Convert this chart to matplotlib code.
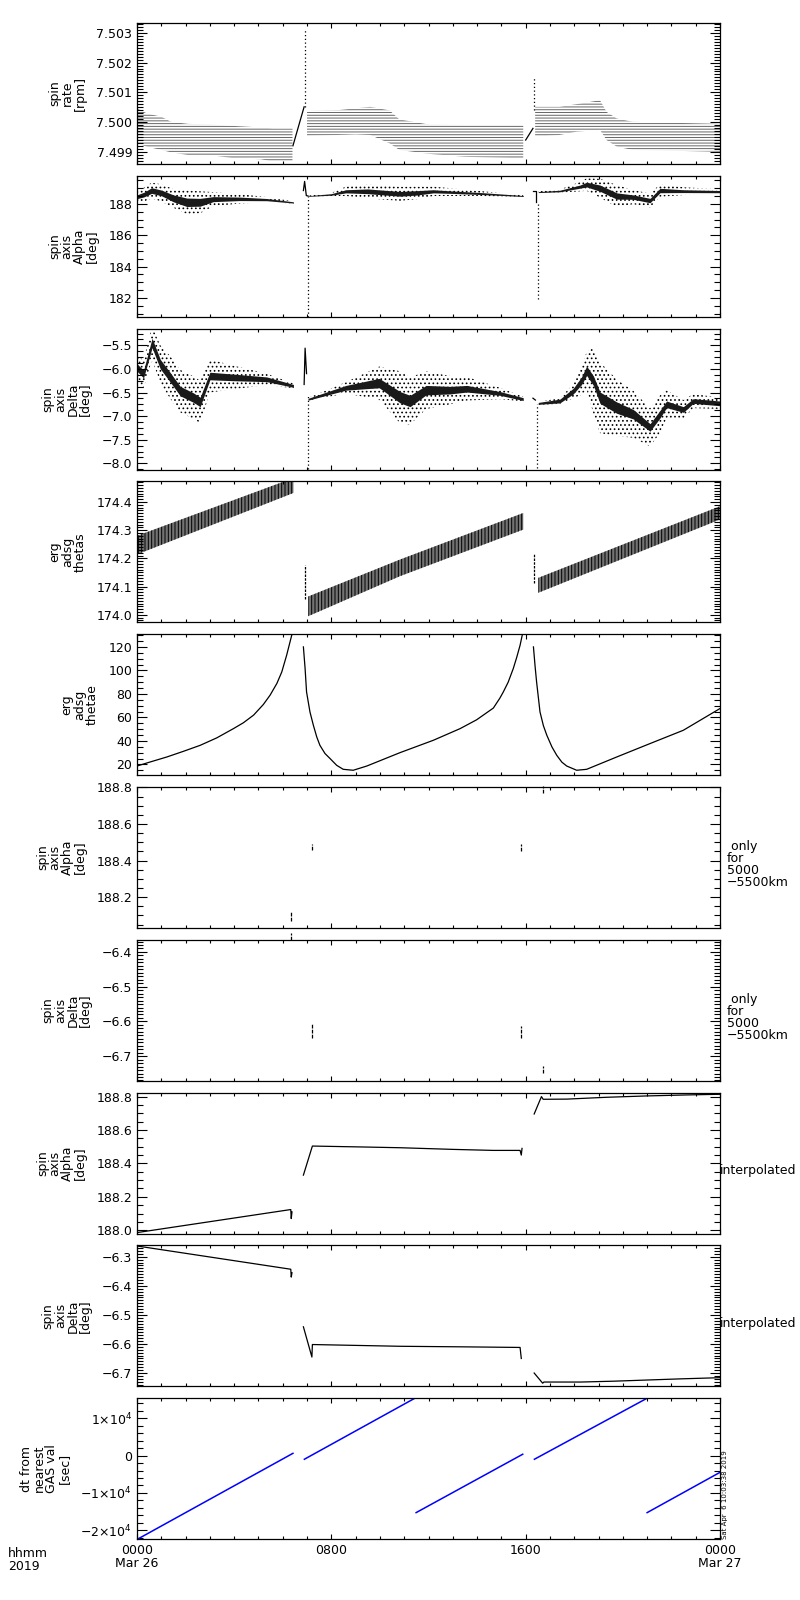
import numpy as np
import matplotlib
matplotlib.use('Agg')
import matplotlib.pyplot as plt
from matplotlib.ticker import MultipleLocator, AutoMinorLocator, FuncFormatter

plt.rcParams['font.family'] = 'DejaVu Sans'
plt.rcParams['axes.linewidth'] = 0.9
plt.rcParams['hatch.linewidth'] = 0.7

# ---- panel 1: spin rate envelope (hours, rpm)
rate_t1 = [0, 0.4, 1.0, 1.4, 2.1, 3.0, 4.0, 5.1, 5.6, 6.4]
rate_hi1 = [7.50047, 7.50030, 7.50019, 7.50002, 7.49995, 7.49993, 7.49988, 7.49983, 7.49980, 7.49980]
rate_lo1 = [7.49930, 7.49919, 7.49908, 7.49900, 7.49891, 7.49891, 7.49880, 7.49877, 7.49869, 7.49869]
rate_t2 = [7.0, 8.3, 9.0, 9.6, 10.4, 10.8, 12.0, 13.5, 15.9]
rate_hi2 = [7.50038, 7.50041, 7.50047, 7.50052, 7.50040, 7.50010, 7.49993, 7.49991, 7.49991]
rate_lo2 = [7.49955, 7.49958, 7.49960, 7.49958, 7.49930, 7.49908, 7.49895, 7.49885, 7.49880]
rate_t3 = [16.39, 17.4, 18.1, 19.06, 19.33, 19.75, 20.4, 24.0]
rate_hi3 = [7.50052, 7.50052, 7.50061, 7.50074, 7.50035, 7.50013, 7.50002, 7.49995]
rate_lo3 = [7.49952, 7.49958, 7.49969, 7.49975, 7.49941, 7.49919, 7.49908, 7.49902]
rate_jump_t = [[6.42, 6.88], [16.0, 16.3]]
rate_jump_v = [[7.49922, 7.50052], [7.49941, 7.49980]]
rate_spike_t = [6.9, 16.36]
rate_spike_lo = [7.5005, 7.5004]
rate_spike_hi = [7.5031, 7.50152]

# ---- panel 2: spin axis alpha (centre, outer spread, core spread)
alpha_t1 = [0, 0.3, 0.6, 1.0, 1.5, 2.05, 2.6, 3.14, 4.24, 5.34, 6.44]
alpha_c1 = [188.45, 188.6, 188.85, 188.7, 188.35, 188.1, 188.1, 188.3, 188.32, 188.27, 188.09]
alpha_o1 = [0.25, 0.45, 0.5, 0.55, 0.6, 0.75, 0.7, 0.45, 0.3, 0.16, 0.07]
alpha_k1 = [0.12, 0.15, 0.18, 0.18, 0.22, 0.27, 0.25, 0.16, 0.11, 0.07, 0.04]
alpha_t2 = [7.06, 8.0, 8.6, 9.5, 10.83, 11.52, 12.2, 12.89, 14.26, 15.9]
alpha_c2 = [188.5, 188.6, 188.8, 188.8, 188.64, 188.7, 188.8, 188.75, 188.65, 188.5]
alpha_o2 = [0.03, 0.1, 0.3, 0.45, 0.45, 0.4, 0.3, 0.25, 0.15, 0.05]
alpha_k2 = [0.02, 0.05, 0.1, 0.15, 0.15, 0.14, 0.1, 0.08, 0.06, 0.03]
alpha_t3 = [16.52, 17.41, 18.24, 18.51, 19.06, 19.75, 20.43, 21.12, 21.53, 22.49, 24.0]
alpha_c3 = [188.75, 188.82, 189.1, 189.23, 189.0, 188.5, 188.43, 188.21, 188.85, 188.81, 188.78]
alpha_o3 = [0.05, 0.1, 0.3, 0.4, 0.6, 0.7, 0.45, 0.45, 0.4, 0.25, 0.15]
alpha_k3 = [0.03, 0.05, 0.1, 0.15, 0.2, 0.2, 0.14, 0.14, 0.14, 0.09, 0.07]
alpha_hook_t = [[6.85, 6.9, 6.97, 7.04], [16.3, 16.42, 16.42]]
alpha_hook_v = [[188.85, 189.43, 188.53, 188.5], [188.79, 188.79, 188.1]]
alpha_drop_t = [7.06, 16.5]
alpha_drop_lo = [180.8, 181.9]
alpha_drop_hi = [188.5, 188.1]

# ---- panel 3: spin axis delta
delta_t1 = [0, 0.27, 0.62, 0.96, 1.37, 1.78, 2.33, 2.6, 3.0, 3.97, 5.34, 6.44]
delta_c1 = [-5.97, -6.11, -5.45, -5.9, -6.18, -6.47, -6.61, -6.7, -6.15, -6.18, -6.22, -6.36]
delta_o1 = [0.25, 0.3, 0.35, 0.4, 0.45, 0.45, 0.45, 0.45, 0.35, 0.25, 0.12, 0.05]
delta_k1 = [0.08, 0.08, 0.1, 0.1, 0.1, 0.1, 0.1, 0.1, 0.08, 0.07, 0.05, 0.03]
delta_t2 = [7.06, 8.6, 9.97, 10.83, 11.24, 11.9, 12.89, 13.58, 14.95, 15.9]
delta_c2 = [-6.64, -6.4, -6.3, -6.6, -6.68, -6.45, -6.45, -6.42, -6.52, -6.64]
delta_o2 = [0.03, 0.12, 0.35, 0.55, 0.5, 0.4, 0.3, 0.25, 0.12, 0.05]
delta_k2 = [0.02, 0.05, 0.1, 0.12, 0.12, 0.1, 0.08, 0.07, 0.04, 0.03]
delta_t3 = [16.52, 17.41, 17.96, 18.3, 18.51, 18.79, 19.06, 19.75, 20.43, 21.12, 21.53, 21.8, 22.49, 22.9, 24.0]
delta_c3 = [-6.73, -6.68, -6.47, -6.25, -6.04, -6.25, -6.61, -6.82, -6.96, -7.24, -6.96, -6.75, -6.86, -6.68, -6.73]
delta_o3 = [0.03, 0.06, 0.15, 0.3, 0.4, 0.7, 0.75, 0.6, 0.5, 0.4, 0.4, 0.3, 0.2, 0.15, 0.12]
delta_k3 = [0.02, 0.04, 0.06, 0.08, 0.1, 0.1, 0.12, 0.12, 0.1, 0.08, 0.08, 0.07, 0.06, 0.05, 0.05]
delta_hook_t = [[6.88, 6.92, 6.98], [16.3, 16.4]]
delta_hook_v = [[-6.33, -5.56, -6.1], [-6.62, -6.66]]
delta_drop_t = [7.06, 16.45]
delta_drop_lo = [-8.13, -8.1]
delta_drop_hi = [-6.54, -6.75]

# ---- panel 4: thetas band
thetas_t1 = [0, 6.44]
thetas_hi1 = [174.28, 174.485]
thetas_lo1 = [174.214, 174.432]
thetas_t2 = [7.05, 10.83, 15.9]
thetas_hi2 = [174.065, 174.196, 174.361]
thetas_lo2 = [173.995, 174.137, 174.302]
thetas_t3 = [16.52, 24.0]
thetas_hi3 = [174.131, 174.385]
thetas_lo3 = [174.078, 174.338]
thetas_drop_t = [6.9, 16.36]
thetas_drop_lo = [174.055, 174.113]
thetas_drop_hi = [174.178, 174.214]

# ---- panel 5: thetae
thetae_t1 = [0, 0.535, 1.23, 1.91, 2.6, 3.28, 3.97, 4.38, 4.8, 5.2, 5.48, 5.76, 5.96, 6.16, 6.3, 6.42]
thetae_v1 = [18.7, 22.1, 26.4, 31.2, 36.3, 42.6, 50.5, 55.5, 62.0, 71.0, 79.0, 89.0, 98.7, 112.9, 124.3, 134]
thetae_t2 = [6.85, 6.92, 6.98, 7.12, 7.26, 7.4, 7.53, 7.74, 7.95, 8.22, 8.49, 8.9, 9.46, 10.83,
             12.2, 13.3, 13.98, 14.67, 14.94, 15.08, 15.28, 15.49, 15.63, 15.77, 15.9]
thetae_v2 = [120, 101.6, 81.7, 64.7, 53.4, 43.4, 36.3, 29.3, 25.0, 19.3, 15.9, 15.1, 18.7, 30.1,
             40.6, 50.5, 58.0, 68.0, 76.5, 81.7, 90.0, 101.6, 111.0, 121.4, 134]
thetae_t3 = [16.32, 16.39, 16.45, 16.59, 16.73, 16.87, 17.08, 17.28, 17.49, 17.69, 18.1, 18.51,
             19.75, 21.12, 22.49, 24.0]
thetae_v3 = [120, 103, 90.2, 64.7, 53, 44.9, 35, 27.8, 22, 18.7, 15.1, 15.9,
             26.4, 37.8, 49.1, 67.6]

# ---- panels 6/7: only for 5000-5500km (short marks)
only_t = [6.33, 7.22, 15.8, 16.7]
only_alpha_lo = [188.07, 188.46, 188.45, 188.77]
only_alpha_hi = [188.12, 188.49, 188.49, 188.81]
only_delta_lo = [-6.365, -6.647, -6.647, -6.748]
only_delta_hi = [-6.346, -6.604, -6.614, -6.728]

# ---- panels 8/9: interpolated
ialpha_t = [[0, 6.33, 6.35, 6.38],
            [6.85, 7.22, 9.47, 10.83, 13.03, 14.67, 15.77, 15.82, 15.85],
            [16.35, 16.65, 16.72, 17.69, 19.33, 20.98, 22.63, 24.0]]
ialpha_v = [[187.986, 188.124, 188.07, 188.11],
            [188.33, 188.504, 188.498, 188.494, 188.484, 188.478, 188.478, 188.45, 188.49],
            [188.696, 188.80, 188.784, 188.785, 188.796, 188.804, 188.81, 188.814]]
idelta_t = [[0, 6.33, 6.35, 6.38],
            [6.85, 7.2, 7.22, 10.83, 13.5, 15.77, 15.82],
            [16.35, 16.7, 16.75, 18.27, 19.65, 21.02, 22.4, 24.0]]
idelta_v = [[-6.263, -6.343, -6.37, -6.355],
            [-6.541, -6.645, -6.602, -6.608, -6.61, -6.612, -6.65],
            [-6.70, -6.735, -6.731, -6.731, -6.728, -6.724, -6.72, -6.716]]

# ---- panel 10: dt from nearest GAS value (sec)
dt_t = [[0, 6.42], [6.89, 11.44], [11.49, 15.88], [16.36, 21.0], [21.0, 24.0]]
dt_v = [[-22500, 612], [-980, 15400], [-15300, 370], [-980, 15400], [-15300, -4490]]

xtick_pos = [0, 8, 16, 24]
xtick_lab = ['0000\nMar 26', '0800', '1600', '0000\nMar 27']

ylabels = ['spin\nrate\n[rpm]', 'spin\naxis\nAlpha\n[deg]', 'spin\naxis\nDelta\n[deg]',
           'erg\nadsg\nthetas', 'erg\nadsg\nthetae', 'spin\naxis\nAlpha\n[deg]',
           'spin\naxis\nDelta\n[deg]', 'spin\naxis\nAlpha\n[deg]', 'spin\naxis\nDelta\n[deg]',
           'dt from\nnearest\nGAS val\n[sec]']
ylims = [(7.49861, 7.50332), (180.79, 189.79), (-8.133, -5.146), (173.973, 174.473),
         (10.9, 130.8), (188.031, 188.802), (-6.771, -6.365), (187.98, 188.824),
         (-6.746, -6.261), (-22430, 15400)]
ymajor = [0.001, 2, 0.5, 0.1, 20, 0.2, 0.1, 0.2, 0.1, 10000]
yminor = [10, 4, 4, 10, 4, 4, 10, 4, 10, 5]
yfmt = ['%.3f', '%d', '%.1f', '%.1f', '%d', '%.1f', '%.1f', '%.1f', '%.1f', None]


def fmt_maker(f):
    def _f(v, pos):
        if f is None:
            n = int(round(v / 1e4))
            s = '0' if n == 0 else '%d\u00d710$^{4}$' % n
        else:
            s = f % (round(v) if f == '%d' else v)
        return s.replace('-', '\u2212')
    return _f


def band(ax, t, c, outer, core):
    t = np.array(t)
    c = np.array(c)
    outer = np.array(outer)
    core = np.array(core)
    ax.fill_between(t, c - outer, c + outer, facecolor='none', edgecolor='k',
                    hatch='....', linewidth=0)
    ax.fill_between(t, c - core, c + core, color='0.1', linewidth=0)


fig = plt.figure(figsize=(8, 16), dpi=100)
axes = []
for i in range(10):
    top = 23 + i * 152.8
    ax = fig.add_axes([137 / 800, 1 - (top + 141) / 1600, 583 / 800, 141 / 1600])
    ax.set_xlim(0, 24)
    ax.set_ylim(*ylims[i])
    ax.xaxis.set_major_locator(MultipleLocator(8))
    ax.xaxis.set_minor_locator(MultipleLocator(1))
    ax.yaxis.set_major_locator(MultipleLocator(ymajor[i]))
    ax.yaxis.set_minor_locator(AutoMinorLocator(yminor[i]))
    ax.yaxis.set_major_formatter(FuncFormatter(fmt_maker(yfmt[i])))
    ax.tick_params(which='both', direction='in', top=True, right=True, labelsize=9, width=0.8)
    ax.tick_params(axis='y', which='major', length=7)
    ax.tick_params(axis='y', which='minor', length=4)
    ax.tick_params(axis='x', which='major', length=3.5)
    ax.tick_params(axis='x', which='minor', length=2)
    ax.set_ylabel(ylabels[i], fontsize=9, linespacing=0.95, labelpad=7)
    if i < 9:
        ax.set_xticklabels([])
    axes.append(ax)

# panel 1: quantised spin rate shown as horizontal levels
ax = axes[0]
for t, lo, hi in [(rate_t1, rate_lo1, rate_hi1), (rate_t2, rate_lo2, rate_hi2), (rate_t3, rate_lo3, rate_hi3)]:
    ax.fill_between(t, lo, hi, facecolor='none', edgecolor='0.4', hatch='------', linewidth=0)
for t, v in zip(rate_jump_t, rate_jump_v):
    ax.plot(t, v, color='k', lw=0.9)
ax.vlines(rate_spike_t, rate_spike_lo, rate_spike_hi, color='k', lw=0.9, linestyles=(0, (1, 2)))

# panel 2
ax = axes[1]
band(ax, alpha_t1, alpha_c1, alpha_o1, alpha_k1)
band(ax, alpha_t2, alpha_c2, alpha_o2, alpha_k2)
band(ax, alpha_t3, alpha_c3, alpha_o3, alpha_k3)
for t, v in zip(alpha_hook_t, alpha_hook_v):
    ax.plot(t, v, color='k', lw=0.9)
ax.vlines(alpha_drop_t, alpha_drop_lo, alpha_drop_hi, color='k', lw=0.9, linestyles=(0, (1, 2)))

# panel 3
ax = axes[2]
band(ax, delta_t1, delta_c1, delta_o1, delta_k1)
band(ax, delta_t2, delta_c2, delta_o2, delta_k2)
band(ax, delta_t3, delta_c3, delta_o3, delta_k3)
for t, v in zip(delta_hook_t, delta_hook_v):
    ax.plot(t, v, color='k', lw=0.9)
ax.vlines(delta_drop_t, delta_drop_lo, delta_drop_hi, color='k', lw=0.9, linestyles=(0, (1, 2)))

# panel 4
ax = axes[3]
for t, lo, hi in [(thetas_t1, thetas_lo1, thetas_hi1), (thetas_t2, thetas_lo2, thetas_hi2), (thetas_t3, thetas_lo3, thetas_hi3)]:
    ax.fill_between(t, lo, hi, facecolor='0.45', edgecolor='k', hatch='|||||', linewidth=0)
ax.vlines(thetas_drop_t, thetas_drop_lo, thetas_drop_hi, color='k', lw=0.9, linestyles=(0, (2, 1)))

# panel 5
ax = axes[4]
for t, v in [(thetae_t1, thetae_v1), (thetae_t2, thetae_v2), (thetae_t3, thetae_v3)]:
    ax.plot(t, v, color='k', lw=0.9)

# panels 6 and 7 (marks near the frame are drawn unclipped as in the original)
axes[5].vlines(only_t, only_alpha_lo, only_alpha_hi, color='k', lw=0.9,
               linestyles=(0, (3, 1)), clip_on=False)
axes[6].vlines(only_t, only_delta_lo, only_delta_hi, color='k', lw=0.9,
               linestyles=(0, (3, 1)), clip_on=False)
for ax in axes[5:7]:
    ax.text(1.012, 0.447, ' only\nfor\n5000\n\u22125500km', transform=ax.transAxes,
            ha='left', va='center', fontsize=9, linespacing=0.9)

# panels 8 and 9
for t, v in zip(ialpha_t, ialpha_v):
    axes[7].plot(t, v, color='k', lw=0.9)
for t, v in zip(idelta_t, idelta_v):
    axes[8].plot(t, v, color='k', lw=0.9)
for ax in axes[7:9]:
    ax.text(1.0, 0.444, 'interpolated', transform=ax.transAxes,
            ha='left', va='center', fontsize=9)

# panel 10
ax = axes[9]
for t, v in zip(dt_t, dt_v):
    ax.plot(t, v, color='#0000ff', lw=1.1)
ax.set_xticks(xtick_pos)
ax.set_xticklabels(xtick_lab, fontsize=9, linespacing=0.95)

fig.text(8 / 800, 1 - 1547 / 1600, 'hhmm\n2019', ha='left', va='top', fontsize=9, linespacing=0.95)
fig.text(722 / 800, 1 - 1539 / 1600, 'Sat Apr  6 10:03:38 2019', rotation=90,
         ha='left', va='bottom', fontsize=5)

fig.savefig('out.png', dpi=100)
